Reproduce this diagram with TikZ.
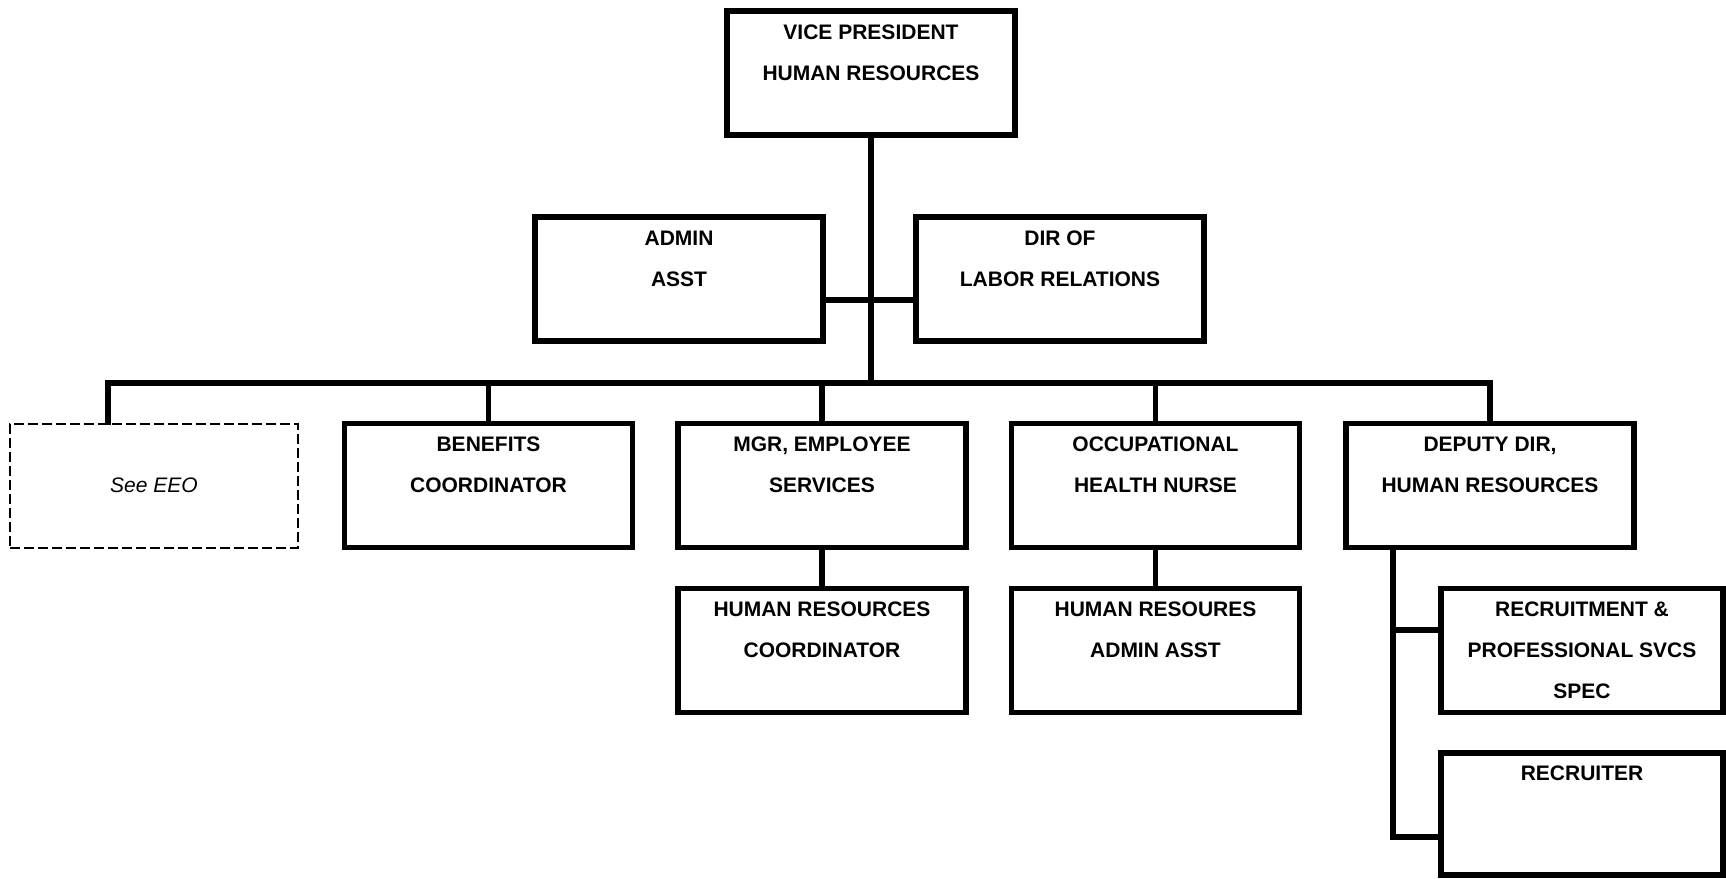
\documentclass[tikz,border=0pt]{standalone}
\usepackage{fontspec}
\setmainfont{Liberation Sans}
\usetikzlibrary{calc,positioning}
\tikzstyle{post}  =[rectangle, draw, line width=5.5pt,
                    minimum width=288pt, minimum height=124pt,
                    inner sep=0pt, align=center,
                    font=\bfseries\fontsize{21}{41}\selectfont]
\tikzstyle{vacant}=[rectangle, draw, line width=2pt,
                    dash pattern=on 10pt off 4pt,
                    minimum width=288pt, minimum height=124pt,
                    inner sep=0pt, font=\itshape\fontsize{21}{41}\selectfont]
\tikzstyle{edge}  =[line width=5.5pt, line cap=rect]

\begin{document}
\begin{tikzpicture}[x=1pt,y=-1pt]
    \useasboundingbox (0,0) rectangle (1726,878);

    % top
    \draw (871,73) node (vp) [post] {VICE PRESIDENT\\HUMAN RESOURCES\\~};
    \draw (679,279) node (admin) [post] {ADMIN\\ASST\\~};
    \draw (1060,279) node (labor) [post] {DIR OF\\LABOR RELATIONS\\~};

    % departments
    \draw (154,485.5) node (eeo) [vacant] {See EEO};
    \draw (488.5,485.5) node (benefits) [post] {BENEFITS\\COORDINATOR\\~};
    \draw (822,485.5) node (empsvc) [post] {MGR, EMPLOYEE\\SERVICES\\~};
    \draw (1155.5,485.5) node (ohn) [post] {OCCUPATIONAL\\HEALTH NURSE\\~};
    \draw (1490,485.5) node (deputy) [post] {DEPUTY DIR,\\HUMAN RESOURCES\\~};

    % staff
    \draw (822,650.5) node (hrcoord) [post] {HUMAN RESOURCES\\COORDINATOR\\~};
    \draw (1155.5,650.5) node (hradmin) [post] {HUMAN RESOURES\\ADMIN ASST\\~};
    \draw (1582,650.5) node (recspec) [post, minimum width=282pt]
        {RECRUITMENT \&\\PROFESSIONAL SVCS\\SPEC};
    \draw (1582,814) node (recruiter) [post, minimum width=282pt,
        minimum height=122pt] {RECRUITER\\~\\~};

    \coordinate (hub) at (871,300);
    \coordinate (bus) at (871,383);
    \coordinate (busL) at (108,383);
    \coordinate (tap) at (1393,630);
    \coordinate (spine) at (1393,837);

    \draw [edge] (vp.south) -- (bus);
    \draw [edge] (admin.east |- hub) -- (labor.west |- hub);
    \draw [edge] (busL |- eeo.north) -- (busL) -- (deputy.north |- bus);
    \foreach \j in {benefits,empsvc,ohn,deputy}
        \draw [edge] (\j.north |- bus) -- (\j.north);
    \foreach \i/\j in {empsvc/hrcoord,ohn/hradmin}
        \draw [edge] (\i.south) -- (\j.north);
    \draw [edge] (deputy.south -| spine) -- (spine) -- (recruiter.west |- spine);
    \draw [edge] (tap) -- (recspec.west |- tap);

\end{tikzpicture}
\end{document}
